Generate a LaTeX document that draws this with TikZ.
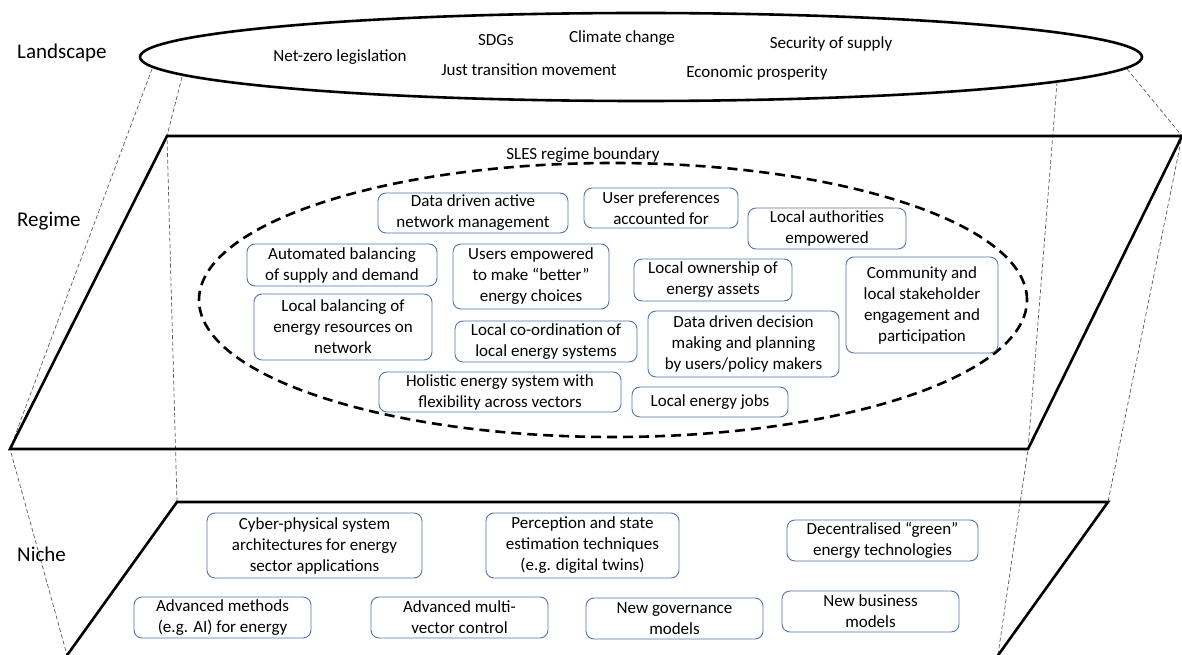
\documentclass[tikz,border=0pt]{standalone}
\usepackage{fontspec}
\setmainfont{Carlito}
\usetikzlibrary{shapes.geometric}
\definecolor{boxblue}{RGB}{84,114,172}
\definecolor{guide}{RGB}{90,90,90}
\begin{document}
\begin{tikzpicture}[x=1pt,y=-1pt]
   \tikzstyle{box} = [draw=boxblue, line width=0.9pt, rounded corners=8pt, align=center, inner sep=0pt, font=\fontsize{17}{21}\selectfont]
   \tikzstyle{txt} = [inner sep=0pt, font=\fontsize{17}{21}\selectfont]
   \tikzstyle{level} = [inner sep=0pt, anchor=west, font=\fontsize{21}{25}\selectfont]
   \tikzstyle{frame} = [line width=2.6pt, line join=miter]
   \tikzstyle{guideline} = [draw=guide, line width=0.7pt, dash pattern=on 4pt off 2.5pt]
   \useasboundingbox (0,0) rectangle (1182,655);
   \clip (0,0) rectangle (1182,655);

   % corners of the layers
   \coordinate (rtl) at (167,136);
   \coordinate (rtr) at (1182,136);
   \coordinate (rbr) at (1028,449);
   \coordinate (rbl) at (10,449);
   \coordinate (ntl) at (177,502);
   \coordinate (ntr) at (1108,502);
   \coordinate (nbl) at (67,655);
   \coordinate (nbr) at (998,655);
   \coordinate (nbl2) at (45,686);
   \coordinate (nbr2) at (976,686);

   % landscape
   \node (land) [draw, ellipse, line width=2.6pt, minimum width=1002pt, minimum height=88pt] at (641,57) {};
   \coordinate (e1) at (152,69);
   \coordinate (e2) at (182,77);
   \coordinate (e3) at (1127,69);
   \coordinate (e4) at (1057,82);

   \path [guideline] (e1) -- (rbl) -- (nbl);
   \path [guideline] (e2) -- (rtl) -- (ntl);
   \path [guideline] (e3) -- (rtr) -- (ntr);
   \path [guideline] (e4) -- (rbr) -- (nbr);

   \draw [frame] (rtl) -- (rtr) -- (rbr) -- (rbl) -- cycle;
   \draw [frame] (nbl2) -- (ntl) -- (ntr) -- (nbr2);

   \node (landlbl) [level] at (17,53) {Landscape};
   \node (reglbl) [level] at (17,221) {Regime};
   \node (nichelbl) [level] at (17,554) {Niche};

   \node (netzero) [txt] at (340,57) {Net-zero legislation};
   \node (sdgs) [txt] at (496,40) {SDGs};
   \node (climate) [txt] at (622,38) {Climate change};
   \node (justtr) [txt] at (529,70) {Just transition movement};
   \node (security) [txt] at (831,44) {Security of supply};
   \node (economic) [txt] at (757,73) {Economic prosperity};

   % regime
   \draw [line width=2.6pt, dash pattern=on 10pt off 6pt] (613,300) ellipse [x radius=414pt, y radius=137pt];
   \node (sles) [txt] at (583,155) {SLES regime boundary};

   \node (dam) [box, minimum width=190pt, minimum height=40pt] at (473,213) {Data driven active\\network management};
   \node (upr) [box, minimum width=154pt, minimum height=40pt] at (661,208) {User preferences\\accounted for};
   \node (lae) [box, minimum width=158pt, minimum height=41pt] at (827,228.5) {Local authorities\\empowered};
   \node (abs) [box, minimum width=190pt, minimum height=42pt] at (342,265) {Automated balancing\\of supply and demand};
   \node (uem) [box, minimum width=156pt, minimum height=65pt] at (531,276.5) {Users empowered\\to make “better”\\energy choices};
   \node (loe) [box, minimum width=158pt, minimum height=42pt] at (713,280) {Local ownership of\\energy assets};
   \node (csp) [box, minimum width=152pt, minimum height=96pt] at (922,305) {Community and\\local stakeholder\\engagement and\\participation};
   \node (lbr) [box, minimum width=178pt, minimum height=66pt] at (343,327) {Local balancing of\\energy resources on\\network};
   \node (lco) [box, minimum width=182pt, minimum height=41pt] at (546,341.5) {Local co-ordination of\\local energy systems};
   \node (ddp) [box, minimum width=191pt, minimum height=66pt] at (743.5,344) {Data driven decision\\making and planning\\by users/policy makers};
   \node (hes) [box, minimum width=242pt, minimum height=40pt] at (500,392) {Holistic energy system with\\flexibility across vectors};
   \node (lej) [box, minimum width=156pt, minimum height=30pt] at (710,402) {Local energy jobs};

   % niche
   \node (cps) [box, minimum width=215pt, minimum height=65pt] at (314.5,545.5) {Cyber-physical system\\architectures for energy\\sector applications};
   \node (pse) [box, minimum width=193pt, minimum height=65pt] at (582.5,545.5) {Perception and state\\estimation techniques\\(e.g. digital twins)};
   \node (dge) [box, minimum width=191pt, minimum height=41pt] at (882.5,540.5) {Decentralised “green”\\energy technologies};
   \node (ame) [box, minimum width=177pt, minimum height=41pt] at (222.5,617.5) {Advanced methods\\(e.g. AI) for energy};
   \node (amv) [box, minimum width=177pt, minimum height=41pt] at (459.5,617.5) {Advanced multi-\\vector control};
   \node (ngm) [box, minimum width=177pt, minimum height=41pt] at (674.5,618.5) {New governance\\models};
   \node (nbm) [box, minimum width=177pt, minimum height=41pt] at (870.5,611.5) {New business\\models};
\end{tikzpicture}
\end{document}
